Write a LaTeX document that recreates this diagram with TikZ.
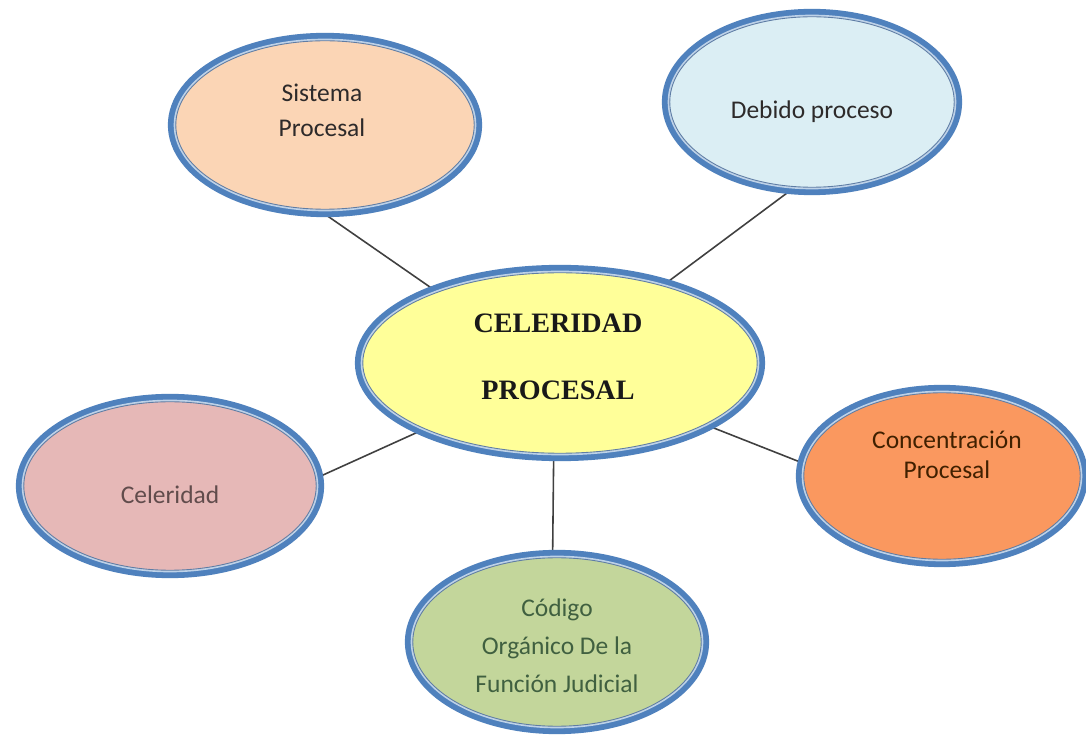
\documentclass[tikz,border=0pt]{standalone}
\usepackage{fontspec}
\setmainfont{Carlito}
\newfontfamily\tiempos{Liberation Serif}
\usetikzlibrary{shapes.geometric,backgrounds}
\definecolor{bordeazul}{RGB}{79,129,189}
\definecolor{bandaclara}{RGB}{190,210,232}
\definecolor{lineafina}{RGB}{95,125,165}
\definecolor{melocoton}{RGB}{251,213,181}
\definecolor{celeste}{RGB}{219,238,244}
\definecolor{amarillo}{RGB}{255,255,153}
\definecolor{rosado}{RGB}{230,184,183}
\definecolor{naranja}{RGB}{250,152,95}
\definecolor{verdoso}{RGB}{195,214,155}
\definecolor{textogris}{RGB}{45,42,42}
\tikzset{
  burbuja/.style={ellipse, inner sep=0pt, outer sep=0pt,
    draw=lineafina, line width=0.5pt,
    preaction={draw=bordeazul, line width=9pt},
    preaction={draw=bandaclara, line width=2.4pt}},
  texto/.style={align=center, text=textogris,
    font=\fontsize{14.5}{20}\selectfont},
  conector/.style={draw=black!75, line width=0.9pt}
}
\begin{document}
\begin{tikzpicture}[x=0.02cm,y=-0.02cm]
    \useasboundingbox (0,0) rectangle (1086,736);
    % ellipses
    \node[burbuja, fill=amarillo, minimum width=7.89cm, minimum height=3.61cm] (centro) at (560,363) {};
    \node[burbuja, fill=melocoton, minimum width=5.97cm, minimum height=3.37cm] (sistema) at (325,125) {};
    \node[burbuja, fill=celeste, minimum width=5.69cm, minimum height=3.41cm] (debido) at (812,102) {};
    \node[burbuja, fill=rosado, minimum width=5.85cm, minimum height=3.37cm] (celeridad) at (170,486) {};
    \node[burbuja, fill=naranja, minimum width=5.53cm, minimum height=3.33cm] (concentracion) at (942,476) {};
    \node[burbuja, fill=verdoso, minimum width=5.77cm, minimum height=3.37cm] (codigo) at (557,642) {};
    % texts
    \node[font=\tiempos\bfseries\fontsize{16}{38}\selectfont, align=center, text=black!90] (t_centro) at (558,357) {CELERIDAD\\PROCESAL};
    \node[texto] (t_sistema) at (322,110) {Sistema\\Procesal};
    \node[texto] (t_debido) at (812,112) {Debido proceso};
    \node[texto, text=black!80!red!40!gray] (t_celeridad) at (170,495) {Celeridad};
    \node[texto, text=black!75!orange, font=\fontsize{14.5}{17}\selectfont] (t_concentracion) at (947,455) {Concentración\\Procesal};
    \node[texto, text=black!75!green!50!gray, font=\fontsize{14.5}{21.5}\selectfont] (t_codigo) at (557,646) {Código\\Orgánico De la\\Función Judicial};
    % connectors
    \begin{scope}[on background layer]
    \fill[white] (0,0) rectangle (1086,736);
    \draw[conector] (sistema.-95) -- (centro.150);
    \draw[conector] (debido.-101) -- (centro.37);
    \draw[conector] (celeridad.3) -- (centro.206);
    \draw[conector] (centro.-23) -- (concentracion.175);
    \draw[conector] (centro.-94) -- (codigo.93);
    \end{scope}
\end{tikzpicture}
\end{document}
